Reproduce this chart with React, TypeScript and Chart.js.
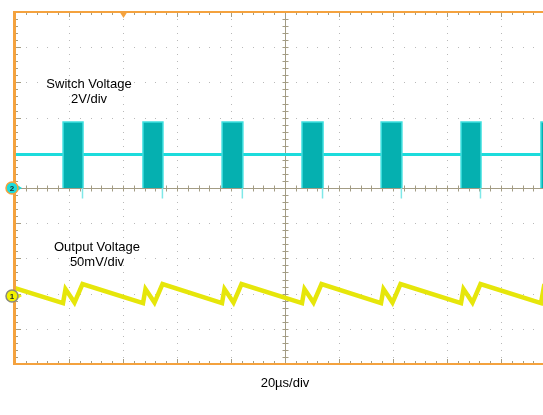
import React, { useEffect, useRef } from "react";
import { Chart, registerables } from "chart.js";

Chart.register(...registerables);

// ---- Scope setup ----
const X_MIN_US = 0;
const X_MAX_US = 200; // 10 divisions
const US_PER_DIV = 20;
const MINOR_PER_DIV = 5;
const HALF_DIVS = 5;
const TRIGGER_US = 40;

const SWITCH_V_PER_DIV = 2;
const OUTPUT_MV_PER_DIV = 50;
const CH2_MARKER_DIV = 0;
const CH1_MARKER_DIV = -3.07;

const TIME_LABEL = "20µs/div";
const SWITCH_LABEL = ["Switch Voltage", "2V/div"];
const OUTPUT_LABEL = ["Output Voltage", "50mV/div"];

// ---- Channel 2: switch node (V) ----
const burstStartUs = [17.8, 47.4, 76.7, 106.3, 135.6, 165.2, 194.8];
const burstEndUs = [25.2, 54.8, 84.4, 114.1, 143.3, 172.6, 203.0];
const switchIdleV = 1.9;
const switchHighV = 3.75;
const switchLowV = 0;
const switchSpikeV = -0.6;

// ---- Channel 1: output ripple (mV, relative to ch1 marker) ----
const outputTimeUs = [
  0, 17.78, 18.7, 22.04, 25.0,
  47.41, 48.33, 51.67, 54.63,
  76.67, 77.59, 80.93, 83.89,
  106.3, 107.22, 110.56, 113.52,
  135.56, 136.48, 139.81, 142.78,
  165.19, 166.11, 169.44, 172.41,
  194.81, 195.74, 199.0,
];
const outputRippleMv = [
  11.4, -9.9, 9.9, -9.2, 17.0,
  -9.9, 9.9, -9.2, 17.0,
  -9.9, 9.9, -9.2, 17.0,
  -9.9, 9.9, -9.2, 17.0,
  -9.9, 9.9, -9.2, 17.0,
  -9.9, 9.9, -9.2, 17.0,
  -9.9, 9.9, -8.0,
];

const FONT = '"Liberation Sans", Arial, Helvetica, sans-serif';
const ORANGE = "#f4a23e";
const TICK = "#a39c84";
const DOT = "#b9b9b9";
const CYAN = "#1cdcdc";
const TEAL = "#05b0b0";
const YELLOW = "#e6e60a";

type P = { x: number; y: number | null };

function buildSwitchIdle(): P[] {
  const pts: P[] = [{ x: X_MIN_US, y: switchIdleV }];
  burstStartUs.forEach((s, i) => {
    pts.push({ x: s, y: switchIdleV });
    pts.push({ x: s, y: null });
    pts.push({ x: burstEndUs[i], y: switchIdleV });
  });
  return pts;
}

function buildBursts(): P[] {
  const pts: P[] = [];
  burstStartUs.forEach((s, i) => {
    const e = burstEndUs[i];
    pts.push({ x: s, y: switchLowV });
    pts.push({ x: s, y: switchHighV });
    pts.push({ x: e, y: switchHighV });
    pts.push({ x: e, y: switchLowV });
    pts.push({ x: e, y: null });
  });
  return pts;
}

function buildSpikes(): P[] {
  const pts: P[] = [];
  burstEndUs.forEach((e) => {
    pts.push({ x: e - 0.2, y: switchLowV });
    pts.push({ x: e - 0.2, y: switchSpikeV });
    pts.push({ x: e - 0.2, y: null });
  });
  return pts;
}

function buildOutput(): P[] {
  return outputTimeUs.map((t, i) => ({ x: t, y: outputRippleMv[i] }));
}

const graticulePlugin = {
  id: "graticule",
  beforeDatasetsDraw(chart: any) {
    const { ctx, chartArea } = chart;
    const { left, right, top, bottom } = chartArea;
    const xs = chart.scales.x;
    const ys = chart.scales.ySw;
    const px = (us: number) => xs.getPixelForValue(us);
    const py = (div: number) => ys.getPixelForValue(div * SWITCH_V_PER_DIV);
    const nDivX = (X_MAX_US - X_MIN_US) / US_PER_DIV;
    const minorUs = US_PER_DIV / MINOR_PER_DIV;
    ctx.save();
    ctx.fillStyle = DOT;
    for (let i = 1; i < nDivX; i++) {
      if (i * 2 === nDivX) continue;
      const xx = Math.round(px(X_MIN_US + i * US_PER_DIV));
      for (let m = -HALF_DIVS * MINOR_PER_DIV + 1; m < HALF_DIVS * MINOR_PER_DIV; m++) {
        const yy = Math.round(py(m / MINOR_PER_DIV));
        ctx.fillRect(xx, yy, 1, 1);
      }
    }
    for (let k = -HALF_DIVS + 1; k < HALF_DIVS; k++) {
      if (k === 0) continue;
      const yy = Math.round(py(k));
      for (let m = 1; m < nDivX * MINOR_PER_DIV; m++) {
        const xx = Math.round(px(X_MIN_US + m * minorUs));
        ctx.fillRect(xx, yy, 1, 1);
      }
    }
    ctx.strokeStyle = TICK;
    ctx.lineWidth = 1;
    const cx = Math.round(px((X_MIN_US + X_MAX_US) / 2)) + 0.5;
    const cy = Math.round(py(0)) + 0.5;
    ctx.beginPath();
    ctx.moveTo(cx, top);
    ctx.lineTo(cx, bottom);
    ctx.moveTo(left, cy);
    ctx.lineTo(right, cy);
    for (let m = -HALF_DIVS * MINOR_PER_DIV + 1; m < HALF_DIVS * MINOR_PER_DIV; m++) {
      const yy = Math.round(py(m / MINOR_PER_DIV)) + 0.5;
      ctx.moveTo(cx - 3, yy);
      ctx.lineTo(cx + 3, yy);
    }
    for (let m = 1; m < nDivX * MINOR_PER_DIV; m++) {
      const xx = Math.round(px(X_MIN_US + m * minorUs)) + 0.5;
      ctx.moveTo(xx, cy - 3);
      ctx.lineTo(xx, cy + 3);
    }
    for (let m = 1; m < nDivX * MINOR_PER_DIV; m++) {
      const xx = Math.round(px(X_MIN_US + m * minorUs)) + 0.5;
      const len = m % MINOR_PER_DIV === 0 ? 5 : 3;
      ctx.moveTo(xx, top);
      ctx.lineTo(xx, top + len);
      ctx.moveTo(xx, bottom);
      ctx.lineTo(xx, bottom - len);
    }
    for (let m = -HALF_DIVS * MINOR_PER_DIV + 1; m < HALF_DIVS * MINOR_PER_DIV; m++) {
      const yy = Math.round(py(m / MINOR_PER_DIV)) + 0.5;
      const len = m % MINOR_PER_DIV === 0 ? 6 : 3;
      ctx.moveTo(left, yy);
      ctx.lineTo(left + len, yy);
    }
    ctx.stroke();
    ctx.restore();
  },
  afterDatasetsDraw(chart: any) {
    const { ctx, chartArea } = chart;
    const { left, right, top, bottom } = chartArea;
    const xs = chart.scales.x;
    const ys = chart.scales.ySw;
    const yo = chart.scales.yOut;
    ctx.save();
    ctx.strokeStyle = ORANGE;
    ctx.lineWidth = 2;
    ctx.beginPath();
    ctx.moveTo(left - 1, top);
    ctx.lineTo(right, top);
    ctx.moveTo(left - 1, bottom);
    ctx.lineTo(right, bottom);
    ctx.stroke();
    ctx.lineWidth = 3;
    ctx.beginPath();
    ctx.moveTo(left - 0.5, top - 1);
    ctx.lineTo(left - 0.5, bottom + 1);
    ctx.stroke();

    // trigger marker
    const tx = xs.getPixelForValue(TRIGGER_US) + 0.5;
    ctx.fillStyle = ORANGE;
    ctx.beginPath();
    ctx.moveTo(tx - 4.5, top - 1);
    ctx.lineTo(tx + 4.5, top - 1);
    ctx.lineTo(tx, top + 6);
    ctx.closePath();
    ctx.fill();

    const marker = (y: number, fill: string, ring: string, label: string, arrow: string) => {
      const mx = left - 3;
      ctx.fillStyle = arrow;
      ctx.beginPath();
      ctx.moveTo(mx + 6, y - 2.5);
      ctx.lineTo(mx + 10, y);
      ctx.lineTo(mx + 6, y + 2.5);
      ctx.closePath();
      ctx.fill();
      ctx.beginPath();
      ctx.arc(mx, y, 6, 0, Math.PI * 2);
      ctx.fillStyle = fill;
      ctx.fill();
      ctx.lineWidth = 1.5;
      ctx.strokeStyle = ring;
      ctx.stroke();
      ctx.fillStyle = "#1a2a2a";
      ctx.font = `bold 8px ${FONT}`;
      ctx.textAlign = "center";
      ctx.textBaseline = "middle";
      ctx.fillText(label, mx, y + 0.5);
    };
    marker(ys.getPixelForValue(CH2_MARKER_DIV * SWITCH_V_PER_DIV), CYAN, ORANGE, "2", CYAN);
    marker(yo.getPixelForValue(0), "#f2f200", "#8a8a7a", "1", "#f2f200");
    ctx.restore();
  },
};

export default function App() {
  const canvasRef = useRef<HTMLCanvasElement | null>(null);

  useEffect(() => {
    const canvas = canvasRef.current;
    if (!canvas) return;
    const outMin = (-HALF_DIVS - CH1_MARKER_DIV) * OUTPUT_MV_PER_DIV;
    const outMax = (HALF_DIVS - CH1_MARKER_DIV) * OUTPUT_MV_PER_DIV;
    const chart = new Chart(canvas, {
      type: "line",
      data: {
        datasets: [
          {
            label: "Switch bursts",
            data: buildBursts() as any,
            yAxisID: "ySw",
            borderColor: "#3fe0e0",
            borderWidth: 1.5,
            backgroundColor: TEAL,
            fill: { value: switchLowV } as any,
            pointRadius: 0,
            tension: 0,
            spanGaps: false,
          },
          {
            label: "Switch spikes",
            data: buildSpikes() as any,
            yAxisID: "ySw",
            borderColor: "#7fe8e8",
            borderWidth: 1.5,
            pointRadius: 0,
            fill: false,
            spanGaps: false,
          },
          {
            label: "Switch Voltage",
            data: buildSwitchIdle() as any,
            yAxisID: "ySw",
            borderColor: CYAN,
            borderWidth: 3,
            pointRadius: 0,
            fill: false,
            tension: 0,
            spanGaps: false,
          },
          {
            label: "Output Voltage",
            data: buildOutput() as any,
            yAxisID: "yOut",
            borderColor: YELLOW,
            borderWidth: 4.5,
            borderJoinStyle: "miter",
            pointRadius: 0,
            fill: false,
            tension: 0,
          },
        ],
      },
      options: {
        animation: false,
        responsive: false,
        events: [],
        layout: { padding: { left: 15, top: 12, right: 2, bottom: 19.4 } },
        plugins: {
          legend: { display: false },
          tooltip: { enabled: false },
          title: { display: false },
        },
        scales: {
          x: {
            type: "linear",
            min: X_MIN_US,
            max: X_MAX_US,
            ticks: { display: false },
            grid: { display: false, drawTicks: false, tickLength: 0 },
            border: { display: false },
            title: {
              display: true,
              text: TIME_LABEL,
              color: "#000",
              font: { family: FONT, size: 13 },
              padding: { top: 12, bottom: 4 },
            },
          },
          ySw: {
            type: "linear",
            position: "left",
            min: -HALF_DIVS * SWITCH_V_PER_DIV,
            max: HALF_DIVS * SWITCH_V_PER_DIV,
            display: false,
          },
          yOut: {
            type: "linear",
            position: "right",
            min: outMin,
            max: outMax,
            display: false,
          },
        },
      },
      plugins: [graticulePlugin],
    });
    return () => chart.destroy();
  }, []);

  const labelStyle = (cx: number, top: number): React.CSSProperties => ({
    position: "absolute",
    left: cx - 70,
    top,
    width: 140,
    textAlign: "center",
    fontFamily: FONT,
    fontSize: 13,
    lineHeight: "15px",
    color: "#000",
    whiteSpace: "nowrap",
  });

  return (
    <div
      style={{
        position: "fixed",
        left: 0,
        top: 0,
        width: 543,
        height: 415,
        overflow: "hidden",
        background: "#fff",
      }}
    >
      <canvas ref={canvasRef} width={557} height={415} style={{ display: "block" }} />
      <div style={labelStyle(89, 75.5)}>
        {SWITCH_LABEL[0]}
        <br />
        {SWITCH_LABEL[1]}
      </div>
      <div style={labelStyle(97, 239)}>
        {OUTPUT_LABEL[0]}
        <br />
        {OUTPUT_LABEL[1]}
      </div>
    </div>
  );
}
